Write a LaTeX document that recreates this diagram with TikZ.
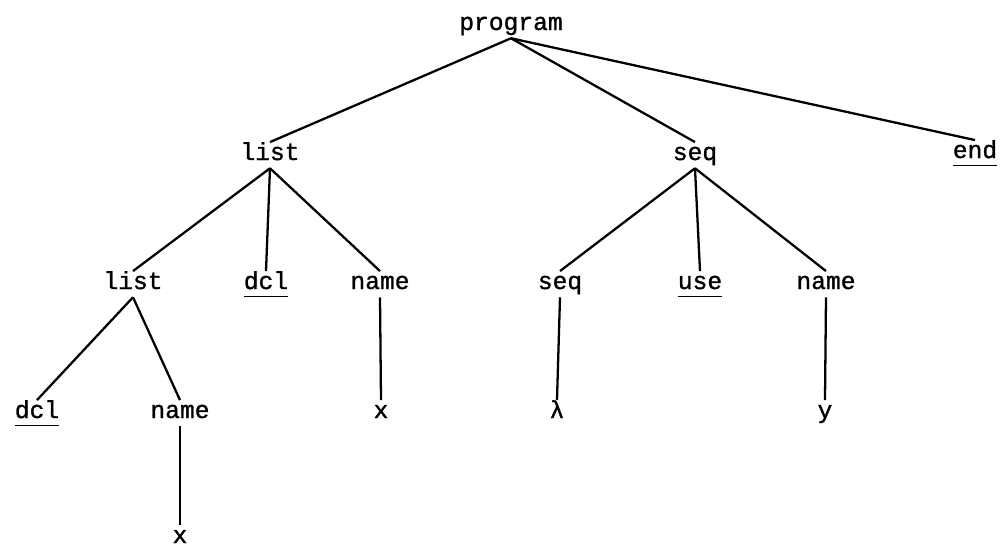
\documentclass[tikz,border=0pt]{standalone}
\usepackage{fontspec}
\setmonofont[FakeBold=1.2]{Liberation Mono}
\usepackage{tikz}

\newcommand{\kw}[1]{\underline{\vphantom{g}#1}}

\begin{document}
\begin{tikzpicture}[
  lbl/.style={anchor=base, inner sep=2pt, text height=0.8em, text depth=0.25em,
    font=\ttfamily\fontsize{14}{16}\selectfont},
  branch/.style={line width=1.3pt}
]

\useasboundingbox (0,0) rectangle (20.02,-10.96);

% root
\node[lbl] (prog) at (10.22,-0.60) {program};

% first level
\node[lbl] (list1) at (5.40,-3.20) {list};
\node[lbl] (seq1) at (13.90,-3.20) {seq};
\node[lbl] (end) at (19.50,-3.16) {\kw{end}};

% second level
\node[lbl] (list2) at (2.66,-5.78) {list};
\node[lbl] (dcl1) at (5.32,-5.78) {\kw{dcl}};
\node[lbl] (name1) at (7.60,-5.78) {name};
\node[lbl] (seq2) at (11.20,-5.78) {seq};
\node[lbl] (use) at (14.00,-5.78) {\kw{use}};
\node[lbl] (name2) at (16.52,-5.78) {name};

% third level
\node[lbl] (dcl2) at (0.74,-8.36) {\kw{dcl}};
\node[lbl] (name3) at (3.60,-8.36) {name};
\node[lbl] (x1) at (7.62,-8.36) {x};
\node[lbl] (lam) at (11.14,-8.36) {λ};
\node[lbl] (yy) at (16.50,-8.36) {y};

% fourth level
\node[lbl] (x2) at (3.60,-10.86) {x};

% branches
\foreach \p/\c in {prog/list1, prog/seq1, prog/end,
                   list1/list2, list1/dcl1, list1/name1,
                   seq1/seq2, seq1/use, seq1/name2,
                   list2/dcl2, list2/name3, name1/x1,
                   seq2/lam, name2/yy, name3/x2}
  \draw[branch] (\p.south) -- (\c.north);

\end{tikzpicture}
\end{document}
